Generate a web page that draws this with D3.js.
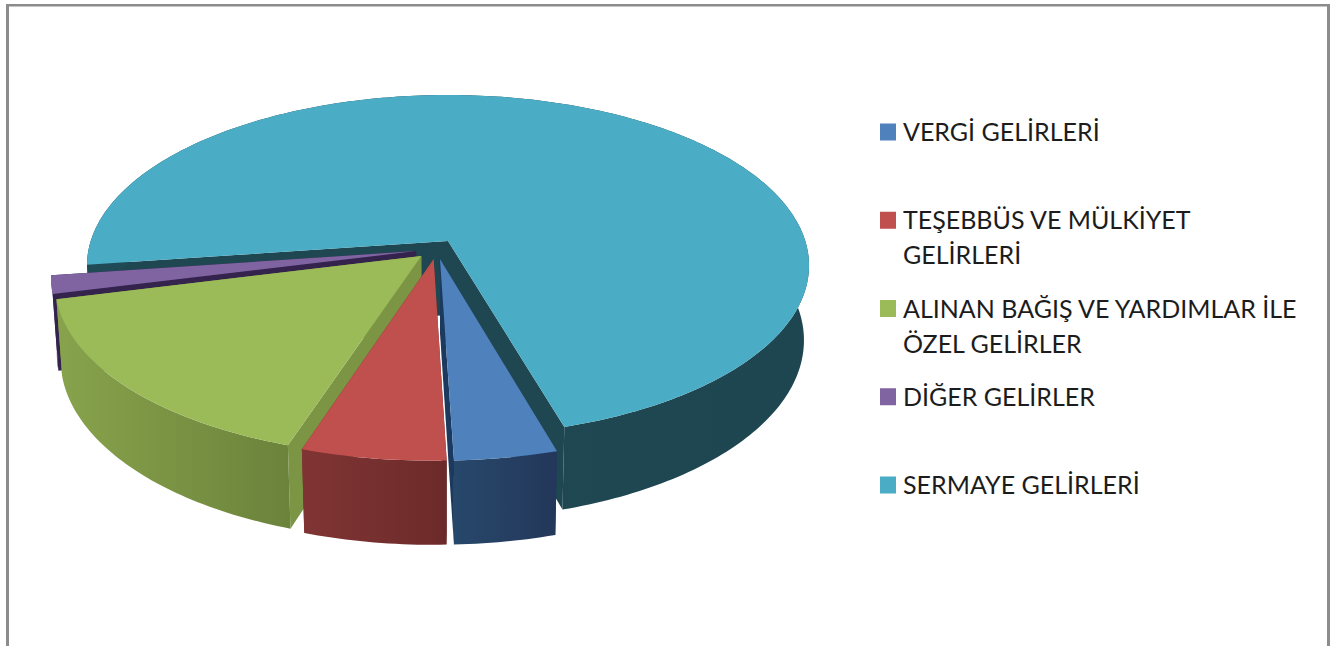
<!DOCTYPE html>
<html>
<head>
<meta charset="utf-8">
<script src="https://cdn.jsdelivr.net/npm/d3@7"></script>
<style>
    html, body { margin: 0; padding: 0; background: #fff; overflow: hidden; }
    svg { display: block; }
</style>
</head>
<body>
<svg id="chart" width="1330" height="646"></svg>
<script>
const categories = ["VERGİ GELİRLERİ", "TEŞEBBÜS VE MÜLKİYET GELİRLERİ", "ALINAN BAĞIŞ VE YARDIMLAR İLE ÖZEL GELİRLER", "DİĞER GELİRLER", "SERMAYE GELİRLERİ"];
const values = [3.95, 5.55, 16.1, 1.7, 72.7];
const legendLines = [["VERGİ GELİRLERİ"], ["TEŞEBBÜS VE MÜLKİYET", "GELİRLERİ"], ["ALINAN BAĞIŞ VE YARDIMLAR İLE", "ÖZEL GELİRLER"], ["DİĞER GELİRLER"], ["SERMAYE GELİRLERİ"]];
const topColors = ["#4f81bd", "#c0504d", "#9bbb59", "#8064a2", "#4bacc6"];
const faceColors = ["#1c3a5e", "#6f2c2a", "#7b9544", "#33234d", "#1f4752"];
const wallLeft = ["#27486b", "#803534", "#88a34c", "#33234d", "#1f4a56"];
const wallRight = ["#23375a", "#6b2a29", "#6b833b", "#33234d", "#1e4650"];

const svg = d3.select("#chart");
const toRad = d => d * Math.PI / 180;

// frame of the pasted chart, no bottom edge
const frame = svg.append("g").attr("fill", "#8c8c8c");
frame.append("rect").attr("x", 6).attr("y", 4).attr("width", 1324).attr("height", 2.5);
frame.append("rect").attr("x", 6).attr("y", 4).attr("width", 3).attr("height", 642);
frame.append("rect").attr("x", 1327).attr("y", 4).attr("width", 3).attr("height", 642);

// perspective of the pie plane
const x0 = 448, y0 = 241, S = 357.3, K = 167, P = 0.1437, H = 75, Q = 0.014;
const explode = 0.058;
const firstAngle = toRad(163.7);

const project = (X, Y, Z) => {
    const w = 1 - P * Y + Q * Z;
    return [x0 + S * X / w, y0 + (K * Y + H * Z) / w];
};

const pie = d3.pie().sort(null).startAngle(firstAngle).endAngle(firstAngle + 2 * Math.PI);
const arcs = pie(values);
const midAngle = d => (d.startAngle + d.endAngle) / 2;
const lastMid = midAngle(arcs[arcs.length - 1]);

const line = d3.line();
const defs = svg.append("defs");

const slices = arcs.map((d, i) => {
    const m = midAngle(d);
    const ox = explode * (Math.sin(m) - Math.sin(lastMid));
    const oy = explode * (Math.cos(lastMid) - Math.cos(m));
    const pt = (a, z) => project(ox + Math.sin(a), oy - Math.cos(a), z);
    const center = z => project(ox, oy, z);
    const steps = Math.max(8, Math.round((d.endAngle - d.startAngle) / toRad(1)));
    const angles = d3.range(steps + 1).map(s => d.startAngle + (d.endAngle - d.startAngle) * s / steps);
    return {d, i, pt, center, angles};
});

const chart = svg.append("g");

// back to front: sermaye, diger, alinan, tesebbus, vergi
[4, 3, 2, 1, 0].map(i => slices[i]).forEach(s => {
    const g = chart.append("g");
    const first = s.angles[0], last = s.angles[s.angles.length - 1];

    [first, last].forEach(a => {
        g.append("path")
            .attr("d", line([s.center(0), s.pt(a, 0), s.pt(a, 1), s.center(1)]) + "Z")
            .attr("fill", faceColors[s.i]);
    });

    const xs = s.angles.filter(a => Math.cos(a) < 0.1).map(a => s.pt(a, 0)[0]);
    const grad = defs.append("linearGradient")
        .attr("id", "wall" + s.i)
        .attr("gradientUnits", "userSpaceOnUse")
        .attr("x1", d3.min(xs)).attr("x2", d3.max(xs))
        .attr("y1", 0).attr("y2", 0);
    grad.append("stop").attr("offset", 0).attr("stop-color", wallLeft[s.i]);
    grad.append("stop").attr("offset", 1).attr("stop-color", wallRight[s.i]);

    const wall = s.angles.map(a => s.pt(a, 0)).concat(s.angles.slice().reverse().map(a => s.pt(a, 1)));
    g.append("path")
        .attr("d", line(wall) + "Z")
        .attr("fill", "url(#wall" + s.i + ")");

    const top = [s.center(0)].concat(s.angles.map(a => s.pt(a, 0)));
    g.append("path")
        .attr("d", line(top) + "Z")
        .attr("fill", topColors[s.i]);
});

// legend
const legendY = d3.scalePoint().domain(categories).range([132, 485]);
const legend = svg.selectAll(".legend")
    .data(categories)
    .enter().append("g")
    .attr("class", "legend")
    .attr("transform", d => "translate(880," + legendY(d) + ")");

legend.append("rect")
    .attr("x", 0).attr("y", -8.5)
    .attr("width", 16).attr("height", 17)
    .attr("fill", (d, i) => topColors[i]);

legend.each(function (d, i) {
    const lines = legendLines[i];
    d3.select(this).selectAll("text")
        .data(lines)
        .enter().append("text")
        .attr("x", 23)
        .attr("y", (t, j) => 9 + j * 35)
        .style("font-family", "Lato, sans-serif")
        .style("font-size", "25px")
        .style("fill", "#1c1c1c")
        .text(t => t);
});
</script>
</body>
</html>
